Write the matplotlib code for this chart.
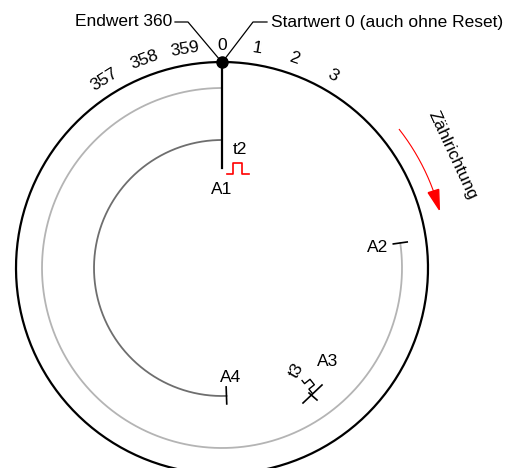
import numpy as np
import matplotlib.pyplot as plt
from matplotlib.patches import Polygon

plt.rcParams['font.family'] = ['Liberation Sans', 'DejaVu Sans']

# circle geometry (pixel units, y down), angles clockwise from top in degrees
cx, cy = 222, 268
r_outer = 206
r_gray = 180
r_dark = 128
r_nums = 222

gray_arc = (82, 360)      # A2 -> 0
dark_arc = (178, 360)     # A4 -> 0

num_labels = ['357', '358', '359', '0', '1', '2', '3']
num_angles = [-32, -20.5, -9.5, 0, 9, 19, 30]

start_label = 'Startwert 0 (auch ohne Reset)'
end_label = 'Endwert 360'
dir_label = 'Zählrichtung'
arrow_arc = (52, 75)
r_arrow = 225

FS = 12.5


def pt(r, th):
    t = np.radians(th)
    return cx + r * np.sin(t), cy - r * np.cos(t)


def arc(r, a0, a1, **kw):
    th = np.linspace(a0, a1, 300)
    x, y = pt(r, th)
    ax.plot(x, y, **kw)


def radial(th, r0, r1, **kw):
    x0, y0 = pt(r0, th)
    x1, y1 = pt(r1, th)
    ax.plot([x0, x1], [y0, y1], **kw)


fig = plt.figure(figsize=(5.28, 4.68), dpi=100)
ax = fig.add_axes([0, 0, 1, 1])
ax.set_xlim(0, 528)
ax.set_ylim(468, 0)
ax.set_aspect('equal')
ax.axis('off')

# circles and arcs
arc(r_outer, 0, 360, color='black', lw=1.6)
arc(r_gray, *gray_arc, color='#b4b4b4', lw=1.3)
arc(r_dark, *dark_arc, color='#6e6e6e', lw=1.3)

# start line and dot
radial(0, r_outer, 100, color='black', lw=1.6)
x0, y0 = pt(r_outer, 0)
ax.plot(x0, y0, 'o', color='black', ms=8)

# end ticks
radial(gray_arc[0], 173, 187, color='black', lw=1.2)
radial(dark_arc[0], 119, 136, color='black', lw=1.2)

# scale numbers
for lab, th in zip(num_labels, num_angles):
    x, y = pt(r_nums, th)
    ax.text(x, y, lab, fontsize=FS, ha='center', va='center',
            rotation=-th, rotation_mode='anchor')

# leader lines
ax.plot([175, 188, 220], [22, 22, 60], color='black', lw=0.9)
ax.plot([224, 253, 267], [60, 22, 22], color='black', lw=0.9)
ax.text(172, 22, end_label, fontsize=FS, ha='right', va='center')
ax.text(271, 22, start_label, fontsize=FS, ha='left', va='center')

# A1 with pulse t2
ax.text(222, 190, 'A1', fontsize=FS, ha='center', va='center')
ax.text(240, 150, 't2', fontsize=FS, ha='center', va='center')
px = [227, 233, 233, 242, 242, 249]
py = [174, 174, 163, 163, 174, 174]
ax.plot(px, py, color='red', lw=1.2)

# A2, A4 labels
ax.text(378, 248, 'A2', fontsize=FS, ha='center', va='center')
ax.text(231, 378, 'A4', fontsize=FS, ha='center', va='center')

# A3 mark with pulse t3
ax.plot([303, 322], [403, 385], color='black', lw=1.2)
ax.plot([309, 317], [393, 400], color='black', lw=1.2)
qx = np.array([0, 5, 5, 12, 12, 16], float)
qy = np.array([0, 0, 7, 7, 0, 0], float)
u = np.array([-0.62, -0.78])
v = np.array([0.78, -0.62])
rx = 312 + qx * u[0] + qy * v[0]
ry = 393 + qx * u[1] + qy * v[1]
ax.plot(rx, ry, color='black', lw=1.0)
ax.text(296, 371, 't3', fontsize=FS, ha='center', va='center', rotation=60)
ax.text(328, 362, 'A3', fontsize=FS, ha='center', va='center')

# counting direction arrow
arc(r_arrow, arrow_arc[0], arrow_arc[1] - 4, color='red', lw=0.8)
tip = np.array(pt(r_arrow, arrow_arc[1]))
base = np.array(pt(r_arrow, arrow_arc[1] - 5))
d = tip - base
n = np.array([-d[1], d[0]]) / np.hypot(*d)
head = [tip, base + n * 5.5, base - n * 5.5]
ax.add_patch(Polygon(head, closed=True, color='red'))
ax.text(453, 155, dir_label, fontsize=FS, ha='center', va='center',
        rotation=-65, rotation_mode='anchor')

fig.savefig('out.png', dpi=100)
